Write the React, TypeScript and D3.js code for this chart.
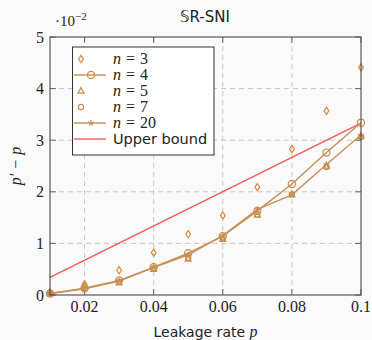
import React from "react";
import * as d3 from "d3";

const pValues = [0.01, 0.02, 0.03, 0.04, 0.05, 0.06, 0.07, 0.08, 0.09, 0.1];
const n3 = [0.05, 0.21, 0.48, 0.82, 1.18, 1.54, 2.09, 2.83, 3.57, 4.41];
const n4 = [0.03, 0.13, 0.28, 0.54, 0.81, 1.14, 1.63, 2.15, 2.76, 3.34];
const n5 = [0.03, 0.19, 0.24, 0.5, 0.7, 1.08, 1.55, 1.95, 2.5, 3.08];
const n7 = [0.03, 0.12, 0.26, 0.52, 0.72, 1.1, 1.56, 1.95, 2.48, 3.06];
const n20 = [0.03, 0.12, 0.27, 0.53, 0.78, 1.15, 1.66, 1.94, 2.53, 3.1];
const ubP = [0.01, 0.1];
const ubValues = [0.34, 3.33];
const xTicks = [0.02, 0.04, 0.06, 0.08, 0.1];
const xTickLabels = ["0.02", "0.04", "0.06", "0.08", "0.1"];
const yTicks = [0, 1, 2, 3, 4, 5];
const legendLabels = ["3", "4", "5", "7", "20"];

const W = 372;
const H = 340;
const L = 50, R = 361, T = 37, B = 295;

const TAN = "#c98f52";
const ORANGE = "#d98a3e";
const RED = "#f25a5a";
const serif = "'Liberation Serif', 'DejaVu Serif', serif";
const sans = "'DejaVu Sans', 'Noto Sans', sans-serif";

type MarkerKind = "diamond" | "circle" | "triangle" | "smallcircle" | "star";

function Marker({ kind, x, y, color }: { kind: MarkerKind; x: number; y: number; color: string }) {
  const sw = 1.2;
  if (kind === "diamond") {
    const pts = `${x},${y - 3.6} ${x + 2.4},${y} ${x},${y + 3.6} ${x - 2.4},${y}`;
    return <polygon points={pts} fill="none" stroke={color} strokeWidth={sw} />;
  }
  if (kind === "circle") return <circle cx={x} cy={y} r={3.6} fill="none" stroke={color} strokeWidth={sw} />;
  if (kind === "smallcircle") return <circle cx={x} cy={y} r={2.6} fill="none" stroke={color} strokeWidth={sw} />;
  if (kind === "triangle") {
    const pts = `${x},${y - 3.4} ${x + 3},${y + 2.2} ${x - 3},${y + 2.2}`;
    return <polygon points={pts} fill="none" stroke={color} strokeWidth={sw} />;
  }
  const r = 3.2;
  const lines = [0, 1, 2, 3, 4].map((i) => {
    const a = -Math.PI / 2 + (i * 2 * Math.PI) / 5;
    return <line key={i} x1={x} y1={y} x2={x + r * Math.cos(a)} y2={y + r * Math.sin(a)} stroke={color} strokeWidth={sw} />;
  });
  return <g>{lines}</g>;
}

export default function App() {
  const x = d3.scaleLinear().domain([0.01, 0.1]).range([L, R]);
  const y = d3.scaleLinear().domain([0, 5]).range([B, T]);
  const line = d3
    .line<number>()
    .x((_, i) => x(pValues[i]))
    .y((d) => y(d));
  const ubLine = d3
    .line<number>()
    .x((_, i) => x(ubP[i]))
    .y((d) => y(d));

  const series: { data: number[]; kind: MarkerKind; color: string; lined: boolean }[] = [
    { data: n3, kind: "diamond", color: ORANGE, lined: false },
    { data: n4, kind: "circle", color: TAN, lined: true },
    { data: n5, kind: "triangle", color: TAN, lined: false },
    { data: n7, kind: "smallcircle", color: TAN, lined: false },
    { data: n20, kind: "star", color: TAN, lined: true },
  ];

  const gridColor = "#c9c9c9";
  const axisColor = "#4a4a4a";

  return (
    <svg width={W} height={H} style={{ position: "absolute", left: 0, top: 0, background: "#fafafa" }}>
      <rect x={0} y={0} width={W} height={H} fill="#fafafa" />
      {xTicks.slice(0, 4).map((t) => (
        <line key={"gx" + t} x1={x(t)} x2={x(t)} y1={T} y2={B} stroke={gridColor} strokeDasharray="5,4" strokeWidth={1} />
      ))}
      {yTicks.slice(1, 5).map((t) => (
        <line key={"gy" + t} x1={L} x2={R} y1={y(t)} y2={y(t)} stroke={gridColor} strokeDasharray="5,4" strokeWidth={1} />
      ))}
      {xTicks.map((t) => (
        <g key={"tx" + t}>
          <line x1={x(t)} x2={x(t)} y1={B} y2={B - 6} stroke={axisColor} strokeWidth={0.8} />
          <line x1={x(t)} x2={x(t)} y1={T} y2={T + 6} stroke={axisColor} strokeWidth={0.8} />
        </g>
      ))}
      {yTicks.map((t) => (
        <g key={"ty" + t}>
          <line x1={L} x2={L + 6} y1={y(t)} y2={y(t)} stroke={axisColor} strokeWidth={0.8} />
          <line x1={R} x2={R - 6} y1={y(t)} y2={y(t)} stroke={axisColor} strokeWidth={0.8} />
        </g>
      ))}
      <path d={ubLine(ubValues) || ""} fill="none" stroke={RED} strokeWidth={1.4} />
      {series.map((s, si) => (
        <g key={"s" + si}>
          {s.lined && <path d={line(s.data) || ""} fill="none" stroke={s.color} strokeWidth={1.4} />}
          {s.data.map((v, i) => (
            <Marker key={i} kind={s.kind} x={x(pValues[i])} y={y(v)} color={s.color} />
          ))}
        </g>
      ))}
      <rect x={L} y={T} width={R - L} height={B - T} fill="none" stroke={axisColor} strokeWidth={1.1} />
      {xTicks.map((t, i) => (
        <text key={"lx" + t} x={x(t)} y={312} textAnchor="middle" fontFamily={serif} fontSize={16} fill="#222">
          {xTickLabels[i]}
        </text>
      ))}
      {yTicks.map((t) => (
        <text key={"ly" + t} x={44} y={y(t) + 5.5} textAnchor="end" fontFamily={serif} fontSize={16} fill="#222">
          {t}
        </text>
      ))}
      <text x={55} y={26} fontFamily={serif} fontSize={15} fill="#222">
        ·10<tspan dy={-6} fontSize={11}>−2</tspan>
      </text>
      <text x={205} y={22} textAnchor="middle" fontFamily={sans} fontSize={15} fill="#222">
        𝕊R-SNI
      </text>
      <text x={205.5} y={337} textAnchor="middle" fontFamily={sans} fontSize={14} fill="#222">
        Leakage rate <tspan fontFamily={serif} fontStyle="italic" fontSize={16}>p</tspan>
      </text>
      <text transform={`translate(21,${(T + B) / 2}) rotate(-90)`} textAnchor="middle" fontFamily={serif} fontStyle="italic" fontSize={16} fill="#222">
        p′ − p
      </text>
      <rect x={72.5} y={47} width={141.5} height={108} fill="#ffffff" stroke="#333" strokeWidth={1} />
      {series.map((s, i) => {
        const ly = 59 + i * 16;
        return (
          <g key={"leg" + i}>
            {s.lined && <line x1={74} x2={106} y1={ly} y2={ly} stroke={s.color} strokeWidth={1.4} />}
            <Marker kind={s.kind} x={s.lined ? 91 : 81} y={ly} color={s.color} />
            <text x={113} y={ly + 5} fontFamily={serif} fontSize={16} fill="#222">
              <tspan fontStyle="italic">n</tspan>
              <tspan dx={5}>=</tspan>
              <tspan dx={5}>{legendLabels[i]}</tspan>
            </text>
          </g>
        );
      })}
      <line x1={74} x2={106} y1={139} y2={139} stroke={RED} strokeWidth={1.4} />
      <text x={113} y={144} fontFamily={sans} fontSize={14.5} fill="#222">
        Upper bound
      </text>
    </svg>
  );
}
